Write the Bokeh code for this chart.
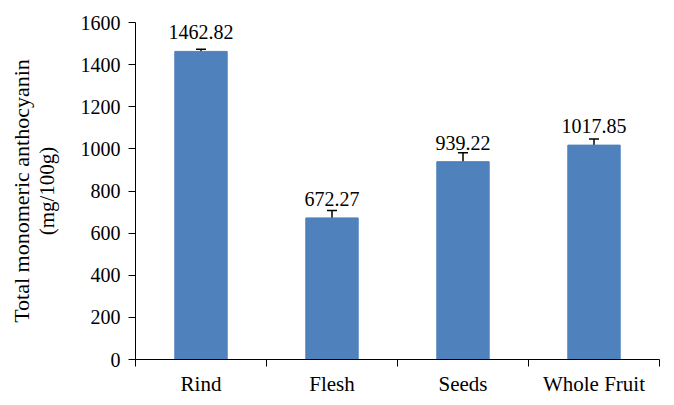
import numpy as np
from bokeh.plotting import figure
from bokeh.models import (Range1d, FixedTicker, ColumnDataSource, Whisker, TeeHead, Title)
from bokeh.embed import file_html
from bokeh.resources import INLINE

categories = ["Rind", "Flesh", "Seeds", "Whole Fruit"]
values = [1462.82, 672.27, 939.22, 1017.85]
errors = [10, 35, 42, 29]
y_ticks = [0, 200, 400, 600, 800, 1000, 1200, 1400, 1600]
value_labels = ["1462.82", "672.27", "939.22", "1017.85"]

FONT = "Liberation Serif"
BAR = "#4F81BD"

xpos = np.arange(len(categories)) + 0.5
src = ColumnDataSource(dict(
    x=xpos, top=values,
    upper=np.array(values) + np.array(errors),
    lower=np.array(values) - np.array(errors),
    lab=value_labels,
))

p = figure(width=674, height=405, output_backend="svg", toolbar_location=None,
           title=None, x_range=Range1d(0, len(categories)), y_range=Range1d(0, 1600),
           min_border_left=135, min_border_right=15, min_border_top=22, min_border_bottom=46)
p.outline_line_color = None
p.xgrid.visible = False
p.ygrid.visible = False
p.background_fill_color = "white"
p.border_fill_color = "white"

p.vbar(x="x", top="top", width=0.4, source=src, fill_color=BAR, line_color=BAR)
w = Whisker(base="x", upper="upper", lower="lower", source=src,
            line_color="black", line_width=1.5,
            upper_head=TeeHead(size=10, line_color="black", line_width=1.5),
            lower_head=TeeHead(size=10, line_color="black", line_width=1.5))
p.add_layout(w)

p.text(x="x", y="top", text="lab", source=src, y_offset=-19,
       text_align="center", text_baseline="alphabetic",
       text_font=FONT, text_font_size="20px", text_color="black")

# x axis: boundary ticks as minor ticks, labels at centers
xa = p.xaxis[0]
xa.ticker = FixedTicker(ticks=list(xpos), minor_ticks=list(range(len(categories) + 1)))
xa.major_label_overrides = {float(x): c for x, c in zip(xpos, categories)}
xa.major_tick_out = 0
xa.major_tick_in = 0
xa.minor_tick_out = 7
xa.minor_tick_in = 0
xa.major_label_standoff = 5
xa.major_label_text_font = FONT
xa.major_label_text_font_size = "21px"
xa.major_label_text_color = "black"
xa.axis_line_color = "black"
xa.minor_tick_line_color = "black"

ya = p.yaxis[0]
ya.ticker = FixedTicker(ticks=y_ticks)
ya.minor_tick_line_color = None
ya.major_tick_out = 7
ya.major_tick_in = 0
ya.major_label_standoff = 8
ya.major_label_text_font = FONT
ya.major_label_text_font_size = "20px"
ya.major_label_text_color = "black"
ya.axis_line_color = "black"
ya.major_tick_line_color = "black"
ya.axis_label = "(mg/100g)"
ya.axis_label_standoff = 19
ya.axis_label_text_font = FONT
ya.axis_label_text_font_size = "21px"
ya.axis_label_text_font_style = "normal"
ya.axis_label_text_color = "black"

t1 = Title(text="Total monomeric anthocyanin", align="center", standoff=-4, text_font=FONT,
           text_font_size="22px", text_font_style="normal", text_color="black")
p.add_layout(t1, "left")

open("out.html", "w").write(file_html(p, INLINE))
